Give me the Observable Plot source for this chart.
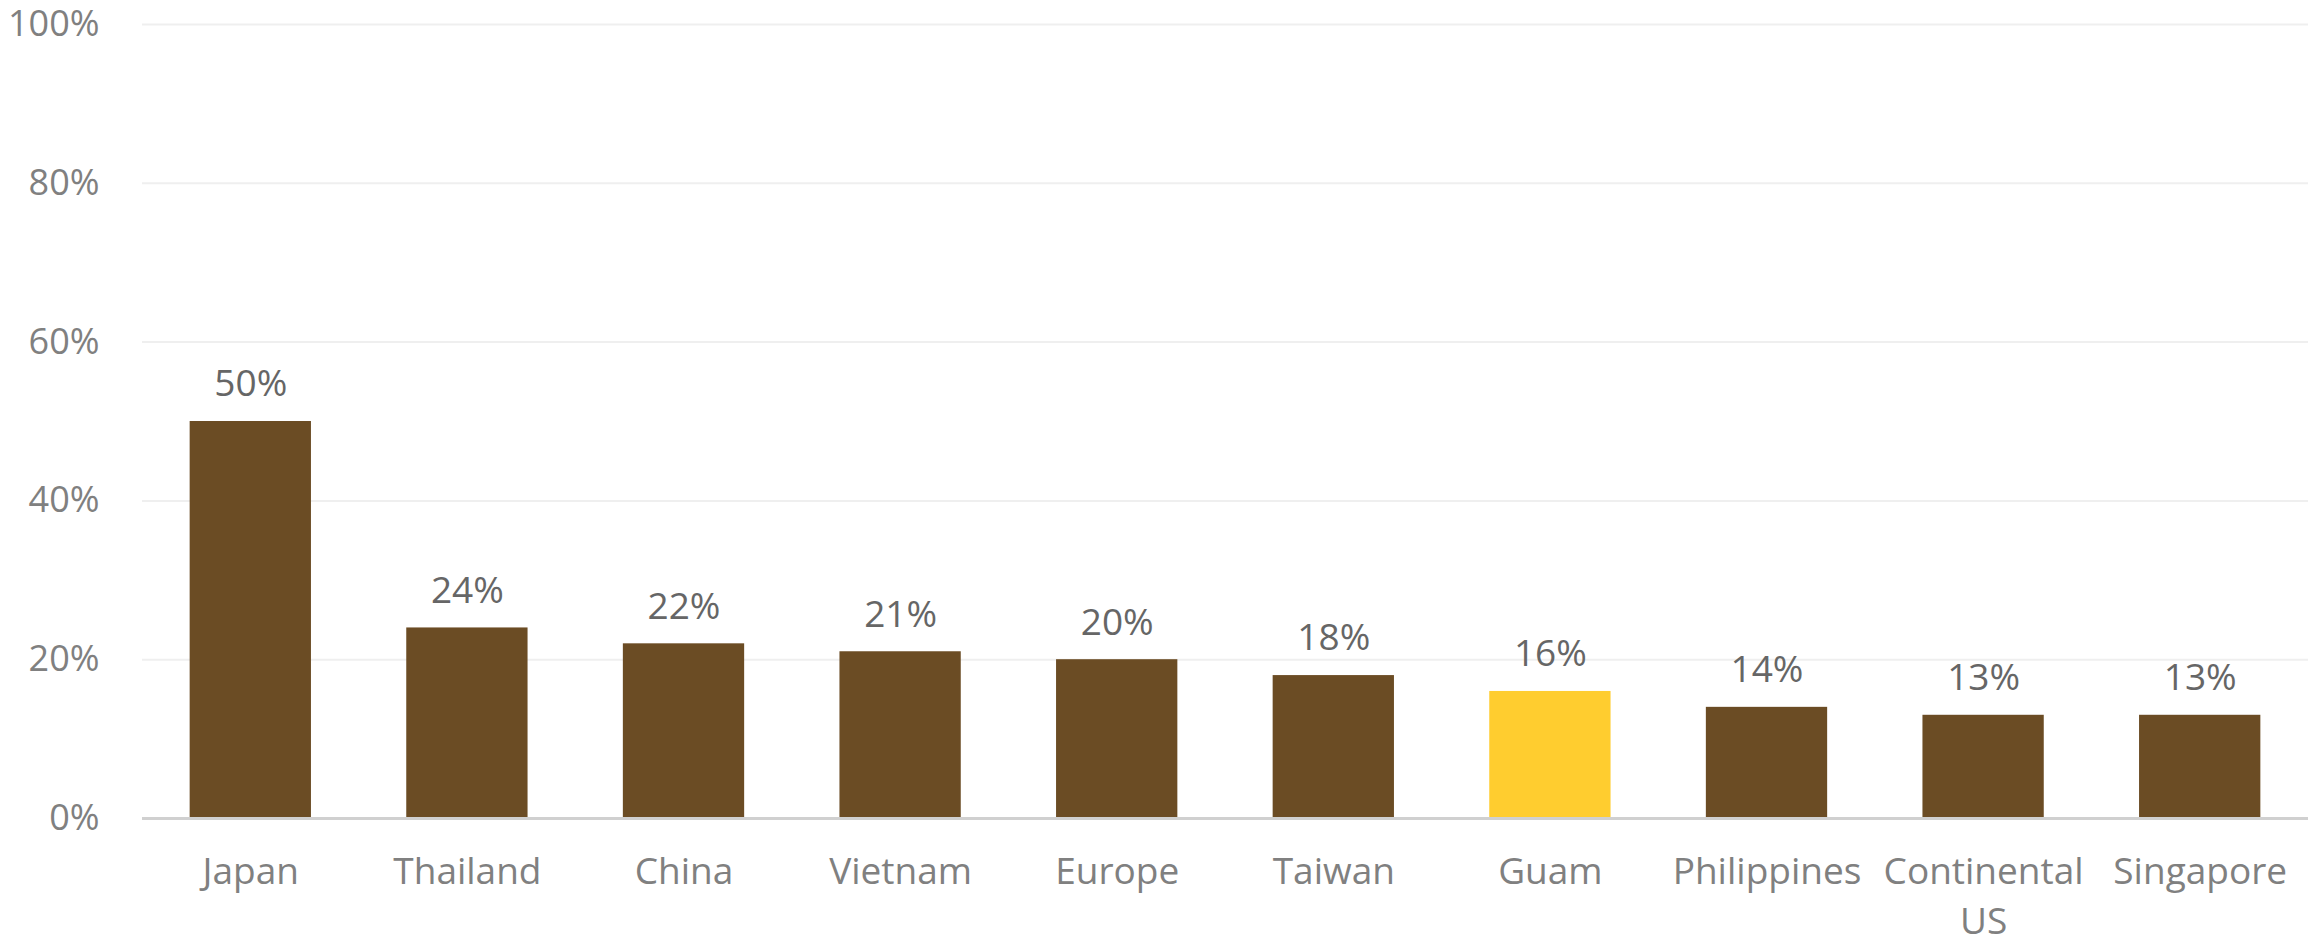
<!DOCTYPE html>
<html>
<head>
<meta charset="utf-8">
<script src="https://cdn.jsdelivr.net/npm/d3@7"></script>
<script src="https://cdn.jsdelivr.net/npm/@observablehq/plot@0.6"></script>
<style>
  html, body { margin: 0; padding: 0; background: #fff; }
  #chart svg { display: block; }
</style>
</head>
<body>
<div id="chart"></div>
<script>
const categories = ["Japan", "Thailand", "China", "Vietnam", "Europe", "Taiwan", "Guam", "Philippines", "Continental\nUS", "Singapore"];
const values = [0.50, 0.24, 0.22, 0.21, 0.20, 0.18, 0.16, 0.14, 0.13, 0.13];
const highlighted = ["Guam"];
const yTicks = [0, 0.2, 0.4, 0.6, 0.8, 1.0];

const data = categories.map((c, i) => ({category: c, value: values[i]}));
const pct = d3.format(".0%");
const FONT = "'Open Sans', 'Noto Sans', sans-serif";

const chart = Plot.plot({
  width: 2308,
  height: 944,
  marginLeft: 142,
  marginRight: 0,
  marginTop: 24,
  marginBottom: 126,
  style: {fontFamily: FONT, background: "#ffffff"},
  x: {domain: categories, paddingInner: 0.44, paddingOuter: 0.22, round: false, label: null},
  y: {domain: [0, 1], label: null},
  marks: [
    Plot.ruleY(yTicks.filter(t => t > 0), {stroke: "#efefef", strokeWidth: 2}),
    Plot.barY(data, {
      x: "category",
      y: "value",
      fill: d => highlighted.includes(d.category) ? "#FFCD2F" : "#6B4C24"
    }),
    Plot.ruleY([0], {stroke: "#d0d0d0", strokeWidth: 3}),
    Plot.text(data, {
      x: "category",
      y: "value",
      text: d => pct(d.value),
      dy: -37,
      fontSize: 37,
      fill: "#666666",
      lineAnchor: "middle"
    }),
    Plot.axisY({
      ticks: yTicks,
      tickFormat: pct,
      tickSize: 0,
      tickPadding: 43,
      fontSize: 36,
      color: "#808080",
      label: null
    }),
    Plot.axisX({
      tickSize: 0,
      tickPadding: 31,
      fontSize: 37,
      lineHeight: 1.33,
      color: "#808080",
      label: null
    })
  ]
});

document.getElementById("chart").appendChild(chart);
</script>
</body>
</html>
